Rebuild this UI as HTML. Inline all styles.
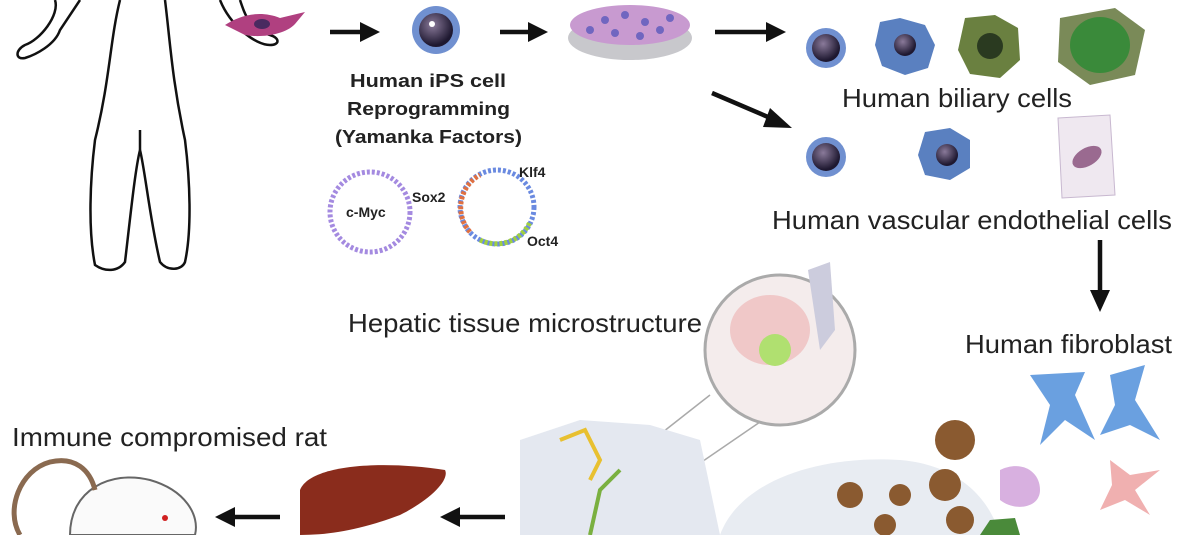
<!DOCTYPE html>
<html><head><style>
html,body{margin:0;padding:0;background:#fff;}
svg{display:block}
text{font-family:"Liberation Sans",sans-serif;fill:#222}
</style></head><body>
<svg width="1200" height="535" viewBox="0 0 1200 535" xmlns="http://www.w3.org/2000/svg">
<defs>
<radialGradient id="nuc" cx="40%" cy="35%" r="60%"><stop offset="0" stop-color="#8a7a9a"/><stop offset="1" stop-color="#1e1830"/></radialGradient>
</defs>
<g fill="none" stroke="#111" stroke-width="2.5">
<path d="M55,0 C60,15 40,40 25,45 C15,50 15,60 25,58 C35,55 55,45 60,30 L80,0"/>
<path d="M120,0 C110,40 110,80 95,140 C90,180 88,230 95,265 C105,272 118,272 125,262 C130,220 135,170 140,150 C145,170 150,220 160,262 C168,272 182,270 185,262 C192,230 190,180 185,140 C172,80 170,40 165,0"/>
<path d="M220,0 C230,25 255,45 270,45 C280,45 280,38 270,35 C250,30 245,15 240,0"/>
<path d="M140,150 L140,130"/>
</g>
<path d="M225,25 C240,15 260,10 280,18 L305,12 L295,24 C285,35 260,38 245,35 Z" fill="#b04080"/>
<ellipse cx="262" cy="24" rx="8" ry="5" fill="#4a2a60"/>
<g stroke="#111" stroke-width="4.5" fill="#111">
<line x1="330" y1="32" x2="362" y2="32"/><path d="M360,22 L380,32 L360,42Z" stroke="none"/>
<line x1="500" y1="32" x2="530" y2="32"/><path d="M528,22 L548,32 L528,42Z" stroke="none"/>
<line x1="715" y1="32" x2="768" y2="32"/><path d="M766,22 L786,32 L766,42Z" stroke="none"/>
<line x1="712" y1="93" x2="775" y2="120"/><path d="M770,108 L792,128 L763,127Z" stroke="none"/>
<line x1="1100" y1="240" x2="1100" y2="292"/><path d="M1090,290 L1100,312 L1110,290Z" stroke="none"/>
<line x1="280" y1="517" x2="232" y2="517"/><path d="M235,507 L215,517 L235,527Z" stroke="none"/>
<line x1="505" y1="517" x2="457" y2="517"/><path d="M460,507 L440,517 L460,527Z" stroke="none"/>
</g>
<circle cx="436" cy="30" r="24" fill="#7090d0"/><circle cx="436" cy="30" r="17" fill="url(#nuc)"/><circle cx="432" cy="24" r="3" fill="#fff"/>
<ellipse cx="630" cy="38" rx="62" ry="22" fill="#c8c8cc"/>
<ellipse cx="630" cy="25" rx="60" ry="20" fill="#c89ad0"/>
<g fill="#7066c0"><circle cx="605" cy="20" r="4"/><circle cx="625" cy="15" r="4"/><circle cx="645" cy="22" r="4"/><circle cx="660" cy="30" r="4"/><circle cx="615" cy="33" r="4"/><circle cx="640" cy="36" r="4"/><circle cx="590" cy="30" r="4"/><circle cx="670" cy="18" r="4"/></g>
<g font-weight="bold" font-size="18">
<text x="350" y="87" textLength="156" lengthAdjust="spacingAndGlyphs">Human iPS cell</text>
<text x="347" y="115" textLength="163" lengthAdjust="spacingAndGlyphs">Reprogramming</text>
<text x="335" y="143" textLength="187" lengthAdjust="spacingAndGlyphs">(Yamanka Factors)</text>
</g>
<circle cx="370" cy="212" r="40" fill="none" stroke="#a48ae0" stroke-width="5" stroke-dasharray="3 2"/>
<circle cx="497" cy="207" r="37" fill="none" stroke="#6a8ae0" stroke-width="5" stroke-dasharray="3 2"/>
<path d="M470,232 A37,37 0 0 1 480,175" fill="none" stroke="#e07040" stroke-width="5" stroke-dasharray="3 2"/>
<path d="M480,240 A37,37 0 0 0 530,222" fill="none" stroke="#a0d040" stroke-width="5" stroke-dasharray="3 2"/>
<g font-weight="bold" font-size="14"><text x="346" y="217">c-Myc</text><text x="412" y="202">Sox2</text><text x="519" y="177">Klf4</text><text x="527" y="246">Oct4</text></g>
<circle cx="826" cy="48" r="20" fill="#7090d0"/><circle cx="826" cy="48" r="14" fill="url(#nuc)"/>
<path d="M880,22 L900,18 L925,25 L935,45 L928,68 L905,75 L882,66 L875,45Z" fill="#5a80c0"/><circle cx="905" cy="45" r="11" fill="url(#nuc)"/>
<path d="M965,18 L995,15 L1018,28 L1020,60 L1000,78 L970,74 L958,50Z" fill="#6a8040"/><circle cx="990" cy="46" r="13" fill="#2a3a20"/>
<path d="M1060,18 L1115,8 L1145,30 L1135,75 L1090,85 L1058,62Z" fill="#7a8a58"/><ellipse cx="1100" cy="45" rx="30" ry="28" fill="#3a8a3a"/>
<g font-size="26">
<text x="842" y="107" textLength="230" lengthAdjust="spacingAndGlyphs">Human biliary cells</text>
<text x="772" y="229" textLength="400" lengthAdjust="spacingAndGlyphs">Human vascular endothelial cells</text>
<text x="965" y="353" textLength="207" lengthAdjust="spacingAndGlyphs">Human fibroblast</text>
<text x="348" y="332" textLength="354" lengthAdjust="spacingAndGlyphs">Hepatic tissue microstructure</text>
<text x="12" y="446" textLength="315" lengthAdjust="spacingAndGlyphs">Immune compromised rat</text>
</g>
<circle cx="826" cy="157" r="20" fill="#7090d0"/><circle cx="826" cy="157" r="14" fill="url(#nuc)"/>
<path d="M925,132 L950,128 L970,140 L970,168 L950,180 L925,175 L918,155Z" fill="#5a80c0"/><circle cx="947" cy="155" r="11" fill="url(#nuc)"/>
<path d="M1058,118 L1110,115 L1115,195 L1062,198Z" fill="#efe8f0" stroke="#c8b8d0"/><ellipse cx="1087" cy="157" rx="16" ry="9" fill="#9a6a90" transform="rotate(-30 1087 157)"/>
<path d="M1030,375 L1085,372 L1075,395 L1095,440 L1065,420 L1040,445 L1050,405Z" fill="#6aa0e0"/>
<path d="M1110,375 L1145,365 L1135,400 L1160,440 L1130,425 L1100,435 L1115,405Z" fill="#6aa0e0"/>
<path d="M1110,460 L1130,475 L1160,470 L1135,490 L1150,515 L1125,500 L1100,510 L1112,485Z" fill="#f0b0b0"/>
<circle cx="780" cy="350" r="75" fill="#f4ecec" stroke="#aaa" stroke-width="3"/>
<ellipse cx="770" cy="330" rx="40" ry="35" fill="#f0c8c8"/><circle cx="775" cy="350" r="16" fill="#b0e070"/>
<path d="M808,270 L830,262 L835,330 L820,350Z" fill="#ccd"/>
<line x1="710" y1="395" x2="640" y2="450" stroke="#aaa" stroke-width="1.5"/>
<line x1="760" y1="422" x2="690" y2="470" stroke="#aaa" stroke-width="1.5"/>
<path d="M520,440 L580,420 L650,425 L700,440 L720,535 L520,535Z" fill="#e4e8f0"/>
<path d="M560,440 L585,430 L600,460 L590,480" fill="none" stroke="#e8c030" stroke-width="4"/>
<path d="M590,535 L600,490 L620,470" fill="none" stroke="#7ab040" stroke-width="4"/>
<path d="M720,535 C740,480 820,455 900,460 C960,465 990,500 1000,535Z" fill="#e8ecf2"/>
<g fill="#8a5a30"><circle cx="850" cy="495" r="13"/><circle cx="900" cy="495" r="11"/><circle cx="955" cy="440" r="20"/><circle cx="945" cy="485" r="16"/><circle cx="960" cy="520" r="14"/><circle cx="885" cy="525" r="11"/></g>
<path d="M1000,470 C1020,460 1040,470 1040,490 C1040,508 1015,512 1000,500Z" fill="#d8b0e0"/>
<path d="M980,535 L990,520 L1015,518 L1020,535Z" fill="#4a8a3a"/>
<path d="M300,490 C310,465 380,460 445,470 C450,480 430,500 400,515 C360,530 330,535 300,535Z" fill="#8a2c1c"/>
<path d="M70,535 C70,490 110,470 150,480 C185,490 200,515 195,535Z" fill="#fafafa" stroke="#666" stroke-width="2"/>
<path d="M20,535 C5,510 20,470 50,462 C75,456 90,470 95,490" fill="none" stroke="#8a6a50" stroke-width="5"/>
<circle cx="165" cy="518" r="3" fill="#d02020"/>
</svg>
</body></html>
